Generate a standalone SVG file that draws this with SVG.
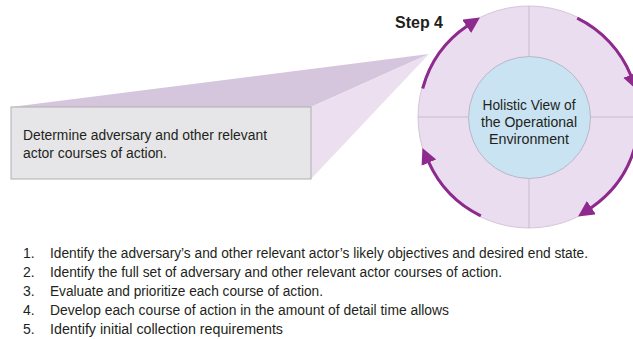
<svg xmlns="http://www.w3.org/2000/svg" width="633" height="339" viewBox="0 0 633 339">
<style>
  .t { font-family: "Liberation Sans", "Noto Sans", sans-serif; fill: #231F20; }
  .arc { fill: none; stroke: #8E2A8E; stroke-width: 3; marker-end: url(#ah); }
  .div { stroke: #C9BACD; stroke-width: 1; }
</style>
<defs>
  <marker id="ah" markerUnits="userSpaceOnUse" markerWidth="16" markerHeight="16" refX="1" refY="8" orient="auto">
    <path d="M0,0 L16,8 L0,16 z" fill="#8E2A8E"/>
  </marker>
</defs>
<rect width="633" height="339" fill="#FFFFFF"/>

<g id="callout">
  <polygon points="11,107 311,107 429,54" fill="#D5C6DD"/>
  <polygon points="311,107 429,54 311,179" fill="#EBDFF0"/>
  <rect x="11" y="107" width="300" height="72" fill="#E6E6E8" stroke="#AFAFB3" stroke-width="1"/>
  <text class="t" x="23" y="140" font-size="14" textLength="244" lengthAdjust="spacingAndGlyphs">Determine adversary and other relevant</text>
  <text class="t" x="23" y="158" font-size="14" textLength="144" lengthAdjust="spacingAndGlyphs">actor courses of action.</text>
</g>

<g id="cycle">
  <circle cx="529" cy="117" r="111" fill="#EADDEF" stroke="#D3C6D8" stroke-width="1"/>
  <line class="div" x1="529" y1="6" x2="529" y2="56"/>
  <line class="div" x1="529" y1="178" x2="529" y2="228"/>
  <line class="div" x1="418" y1="117" x2="468" y2="117"/>
  <line class="div" x1="590" y1="117" x2="640" y2="117"/>
</g>

<g id="center">
  <circle cx="529.5" cy="117.5" r="61" fill="#C9E3F2" stroke="#B9B7C6" stroke-width="1"/>
  <text class="t" x="529" y="110" font-size="14" text-anchor="middle" textLength="93" lengthAdjust="spacingAndGlyphs">Holistic View of</text>
  <text class="t" x="529" y="127" font-size="14" text-anchor="middle" textLength="96" lengthAdjust="spacingAndGlyphs">the Operational</text>
  <text class="t" x="529" y="144" font-size="14" text-anchor="middle" textLength="80" lengthAdjust="spacingAndGlyphs">Environment</text>
</g>

<g id="connectors">
  <path class="arc" d="M422.7,88.5 A110,110 0 0 1 467.5,25.8"/>
  <path class="arc" d="M577.2,18.1 A110,110 0 0 1 631.0,75.8"/>
  <path class="arc" d="M635.3,145.5 A110,110 0 0 1 590.5,208.2"/>
  <path class="arc" d="M480.8,215.9 A110,110 0 0 1 428.5,161.7"/>
</g>

<g id="step-label">
  <text class="t" x="395" y="28" font-size="16" font-weight="bold" textLength="48" lengthAdjust="spacingAndGlyphs">Step 4</text>
</g>

<g id="steps-list">
  <text class="t" x="23" y="258" font-size="14">1.</text>
  <text class="t" x="50" y="258" font-size="14" textLength="538" lengthAdjust="spacingAndGlyphs">Identify the adversary’s and other relevant actor’s likely objectives and desired end state.</text>
  <text class="t" x="23" y="277" font-size="14">2.</text>
  <text class="t" x="50" y="277" font-size="14" textLength="452" lengthAdjust="spacingAndGlyphs">Identify the full set of adversary and other relevant actor courses of action.</text>
  <text class="t" x="23" y="296" font-size="14">3.</text>
  <text class="t" x="50" y="296" font-size="14" textLength="273" lengthAdjust="spacingAndGlyphs">Evaluate and prioritize each course of action.</text>
  <text class="t" x="23" y="315" font-size="14">4.</text>
  <text class="t" x="50" y="315" font-size="14" textLength="399" lengthAdjust="spacingAndGlyphs">Develop each course of action in the amount of detail time allows</text>
  <text class="t" x="23" y="334" font-size="14">5.</text>
  <text class="t" x="50" y="334" font-size="14" textLength="233" lengthAdjust="spacingAndGlyphs">Identify initial collection requirements</text>
</g>
</svg>
